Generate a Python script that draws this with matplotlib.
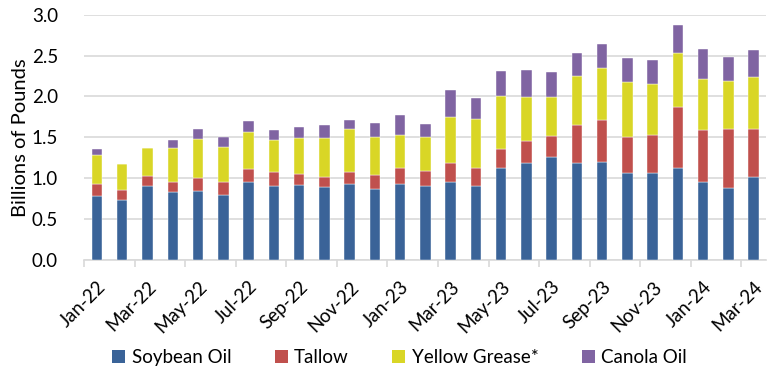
import matplotlib
matplotlib.use("Agg")
import matplotlib.pyplot as plt
import numpy as np
from matplotlib.patches import Patch

months = ["Jan-22","Feb-22","Mar-22","Apr-22","May-22","Jun-22","Jul-22","Aug-22","Sep-22",
          "Oct-22","Nov-22","Dec-22","Jan-23","Feb-23","Mar-23","Apr-23","May-23","Jun-23",
          "Jul-23","Aug-23","Sep-23","Oct-23","Nov-23","Dec-23","Jan-24","Feb-24","Mar-24"]

soybean = [0.78,0.73,0.90,0.83,0.84,0.80,0.95,0.91,0.92,0.89,0.93,0.87,0.93,0.90,0.95,0.91,
           1.13,1.19,1.26,1.19,1.20,1.06,1.06,1.13,0.95,0.88,1.01]
tallow = [0.145,0.13,0.126,0.13,0.163,0.155,0.163,0.163,0.131,0.126,0.15,0.172,0.195,0.192,
          0.236,0.216,0.233,0.261,0.253,0.457,0.509,0.448,0.465,0.746,0.636,0.717,0.591]
yellow_grease = [0.359,0.31,0.343,0.404,0.473,0.428,0.456,0.392,0.444,0.473,0.518,0.464,0.408,
                 0.407,0.567,0.595,0.648,0.545,0.481,0.607,0.644,0.673,0.627,0.653,0.623,0.591,0.64]
canola = [0.069,0.0,0.0,0.106,0.122,0.126,0.131,0.13,0.135,0.163,0.118,0.172,0.244,0.167,0.326,
          0.257,0.301,0.324,0.301,0.282,0.29,0.285,0.294,0.342,0.376,0.294,0.326]

series_names = ["Soybean Oil", "Tallow", "Yellow Grease*", "Canola Oil"]
colors = ["#3A6398", "#C0504D", "#D9D626", "#8064A2"]

plt.rcParams['font.family'] = ['Lato', 'DejaVu Sans']

fig = plt.figure(figsize=(7.76, 3.74), dpi=100)
ax = fig.add_axes([0.1088, 0.3048, 0.8787, 0.6559])

x = np.arange(len(months))
bottom = np.zeros(len(months))
for vals, c in zip([soybean, tallow, yellow_grease, canola], colors):
    v = np.array(vals)
    ax.bar(x, v, width=0.41, bottom=bottom, color=c, edgecolor='white', linewidth=0.3, zorder=3)
    bottom += v

ax.set_xlim(-0.5, len(months) - 0.5)
ax.set_ylim(0, 3.0)
ax.set_yticks(np.arange(0, 3.01, 0.5))
ax.set_yticklabels([f"{v:.1f}" for v in np.arange(0, 3.01, 0.5)], fontsize=13.5)
ax.yaxis.grid(True, color='#D9D9D9', linewidth=1.2, zorder=0)
ax.tick_params(axis='y', length=0, pad=19)

ax.set_xticks(x[::2])
ax.set_xticklabels(months[::2], rotation=45, ha='right', va='top', rotation_mode='anchor', fontsize=13.5)
ax.set_xticks(np.arange(-0.5, len(months) - 1, 2), minor=True)
ax.tick_params(axis='x', which='major', length=0, pad=13)
ax.tick_params(axis='x', which='minor', length=5, color='#D9D9D9', width=1.2)

for s in ['top', 'right', 'left']:
    ax.spines[s].set_visible(False)
ax.spines['bottom'].set_color('#D9D9D9')
ax.spines['bottom'].set_linewidth(1.2)

ax.set_ylabel("Billions of Pounds", fontsize=14.5, labelpad=2)

handles = [Patch(facecolor=c, label=n) for c, n in zip(colors, series_names)]
fig.legend(handles=handles, loc='center', bbox_to_anchor=(0.515, 0.045), ncol=4, frameon=False,
           fontsize=13.5, handlelength=0.7, handleheight=0.7, handletextpad=0.35, columnspacing=2.3)

fig.savefig("out.png", dpi=100)
